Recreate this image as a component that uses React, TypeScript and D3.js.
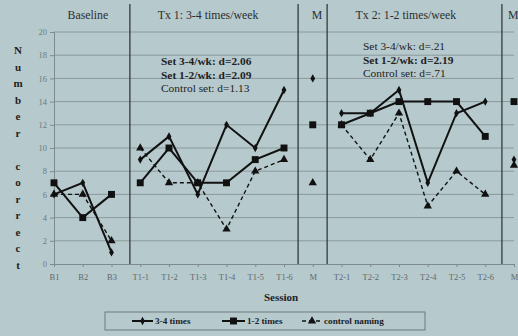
import React, { useEffect, useRef } from "react";
import * as d3 from "d3";

const width = 518;
const height = 336;
const margin = { top: 32, right: 4, bottom: 71, left: 54 };

// session labels on the x axis
const sessions = [
  "B1", "B2", "B3",
  "T1-1", "T1-2", "T1-3", "T1-4", "T1-5", "T1-6",
  "M",
  "T2-1", "T2-2", "T2-3", "T2-4", "T2-5", "T2-6",
  "M",
];

// number correct per session
const times34 = [6, 7, 1, 9, 11, 6, 12, 10, 15, 16, 13, 13, 15, 7, 13, 14, 9];
const times12 = [7, 4, 6, 7, 10, 7, 7, 9, 10, 12, 12, 13, 14, 14, 14, 11, 14];
const controlNaming = [6, 6, 2, 10, 7, 7, 3, 8, 9, 7, 12, 9, 13, 5, 8, 6, 8.5];

// phases: [first index, last index]
const phases = [[0, 2], [3, 8], [9, 9], [10, 15], [16, 16]];
const phaseNames = ["Baseline", "Tx 1: 3-4 times/week", "M", "Tx 2: 1-2 times/week", "M"];
// where the labels / dividers sit, in session units
const phaseLabelAt = [1.18, 5.36, 9.15, 12.24, 15.97];
const dividersAt = [2.64, 8.49, 9.5, 15.58];

const yTicks = [0, 2, 4, 6, 8, 10, 12, 14, 16, 18, 20];
const yTitle = ["N", "u", "m", "b", "e", "r", "", "c", "o", "r", "r", "e", "c", "t"];

const tx1Notes = [
  { text: "Set 3-4/wk: d=2.06", bold: true },
  { text: "Set 1-2/wk: d=2.09", bold: true },
  { text: "Control set: d=1.13", bold: false },
];
const tx2Notes = [
  { text: "Set 3-4/wk: d=.21", bold: false },
  { text: "Set 1-2/wk: d=2.19", bold: true },
  { text: "Control set: d=.71", bold: false },
];

const series = [
  { name: "3-4 times", values: times34, marker: "diamond", dash: null, width: 2 },
  { name: "1-2 times", values: times12, marker: "square", dash: null, width: 2 },
  { name: "control naming", values: controlNaming, marker: "triangle", dash: "4,3", width: 1.4 },
];

const bg = "#b6c9cc";
const font = "'Liberation Serif', 'Times New Roman', serif";

export default function App() {
  const ref = useRef(null);

  useEffect(() => {
    const svg = d3.select(ref.current);
    svg.selectAll("*").remove();

    const x = d3
      .scaleLinear()
      .domain([0, sessions.length - 1])
      .range([margin.left, width - margin.right]);

    const y = d3
      .scaleLinear()
      .domain([0, 20])
      .range([height - margin.bottom - 1, margin.top]);

    const symbolFor = m =>
      m === "diamond"
        ? d3.symbol().type(d3.symbolDiamond).size(20)
        : m === "square"
        ? d3.symbol().type(d3.symbolSquare).size(48)
        : d3.symbol().type(d3.symbolTriangle).size(30);

    svg.append("rect").attr("width", width).attr("height", height).attr("fill", bg);

    // grid lines
    svg
      .append("g")
      .selectAll("line")
      .data(yTicks.filter(d => d > 0))
      .join("line")
      .attr("x1", x(0))
      .attr("x2", x(sessions.length - 1))
      .attr("y1", d => y(d))
      .attr("y2", d => y(d))
      .attr("stroke", "#8a9a9c")
      .attr("stroke-width", 1);

    // y axis
    svg
      .append("g")
      .attr("transform", `translate(${x(0)},0)`)
      .call(d3.axisLeft(y).tickValues(yTicks).tickSize(4).tickPadding(3))
      .call(g => g.select(".domain").attr("stroke", "#7d8b8d"))
      .call(g => g.selectAll(".tick line").attr("stroke", "#7d8b8d"))
      .call(g =>
        g
          .selectAll(".tick text")
          .attr("fill", "#6f7b7d")
          .attr("font-family", font)
          .attr("font-size", 8.5)
      );

    // x axis
    svg
      .append("g")
      .attr("transform", `translate(0,${y(0)})`)
      .call(
        d3
          .axisBottom(x)
          .tickValues(d3.range(sessions.length))
          .tickFormat(i => sessions[i])
          .tickSize(3)
          .tickPadding(7)
      )
      .call(g => g.select(".domain").attr("stroke", "#7d8b8d"))
      .call(g => g.selectAll(".tick line").attr("stroke", "#7d8b8d"))
      .call(g =>
        g
          .selectAll(".tick text")
          .attr("fill", "#5f6a6c")
          .attr("font-family", font)
          .attr("font-size", 8.5)
      );

    // phase dividers
    svg
      .append("g")
      .selectAll("line")
      .data(dividersAt)
      .join("line")
      .attr("x1", d => x(d))
      .attr("x2", d => x(d))
      .attr("y1", 4)
      .attr("y2", y(0))
      .attr("stroke", "#2a2e30")
      .attr("stroke-width", 1.2);

    // phase names
    svg
      .append("g")
      .selectAll("text")
      .data(phaseNames)
      .join("text")
      .attr("x", (d, i) => x(phaseLabelAt[i]))
      .attr("y", 19)
      .attr("text-anchor", "middle")
      .attr("font-family", font)
      .attr("font-size", 11.8)
      .attr("fill", "#2b2f31")
      .text(d => d);

    // effect sizes
    const notes = (list, x0, y0) =>
      svg
        .append("g")
        .selectAll("text")
        .data(list)
        .join("text")
        .attr("x", x0)
        .attr("y", (d, i) => y0 + i * 13.5)
        .attr("font-family", font)
        .attr("font-size", 11.4)
        .attr("font-weight", d => (d.bold ? "bold" : "normal"))
        .attr("fill", "#1e2224")
        .text(d => d.text);
    notes(tx1Notes, 161, 65);
    notes(tx2Notes, 363, 50);

    // lines per phase + markers
    const line = d3
      .line()
      .x(d => x(d[0]))
      .y(d => y(d[1]));

    series.forEach(s => {
      const g = svg.append("g");
      phases.forEach(([a, b]) => {
        if (b === a) return;
        const pts = d3.range(a, b + 1).map(i => [i, s.values[i]]);
        g.append("path")
          .attr("d", line(pts))
          .attr("fill", "none")
          .attr("stroke", "#111")
          .attr("stroke-width", s.width)
          .attr("stroke-dasharray", s.dash)
          .attr("stroke-linejoin", "miter");
      });
      g.selectAll("path.m")
        .data(s.values)
        .join("path")
        .attr("class", "m")
        .attr("transform", (d, i) => `translate(${x(i)},${y(d)})`)
        .attr("d", symbolFor(s.marker))
        .attr("fill", "#111");
    });

    // y title, one letter per row
    svg
      .append("g")
      .selectAll("text")
      .data(yTitle)
      .join("text")
      .attr("x", 18)
      .attr("y", (d, i) => 54 + i * 16.5)
      .attr("text-anchor", "middle")
      .attr("font-family", font)
      .attr("font-size", 11)
      .attr("font-weight", "bold")
      .attr("fill", "#1e2224")
      .text(d => d);

    // x title
    svg
      .append("text")
      .attr("x", 281)
      .attr("y", 301)
      .attr("text-anchor", "middle")
      .attr("font-family", font)
      .attr("font-size", 11)
      .attr("font-weight", "bold")
      .attr("fill", "#1e2224")
      .text("Session");

    // legend
    const legend = svg.append("g");
    legend
      .append("rect")
      .attr("x", 105)
      .attr("y", 312)
      .attr("width", 320)
      .attr("height", 18)
      .attr("fill", "none")
      .attr("stroke", "#6f7b7d");
    const legendX = [132, 222, 302];
    const legendW = [21, 23, 20];
    series.forEach((s, i) => {
      const lx = legendX[i];
      const ly = 321;
      legend
        .append("line")
        .attr("x1", lx)
        .attr("x2", lx + legendW[i])
        .attr("y1", ly)
        .attr("y2", ly)
        .attr("stroke", "#111")
        .attr("stroke-width", s.width)
        .attr("stroke-dasharray", s.dash);
      legend
        .append("path")
        .attr("transform", `translate(${lx + legendW[i] / 2},${ly})`)
        .attr("d", symbolFor(s.marker))
        .attr("fill", "#111");
      legend
        .append("text")
        .attr("x", lx + legendW[i] + 2)
        .attr("y", ly + 3.3)
        .attr("font-family", font)
        .attr("font-size", 9.2)
        .attr("font-weight", "bold")
        .attr("fill", "#1e2224")
        .text(s.name);
    });
  }, []);

  return (
    <svg
      ref={ref}
      width={width}
      height={height}
      style={{ position: "absolute", left: 0, top: 0 }}
    />
  );
}
